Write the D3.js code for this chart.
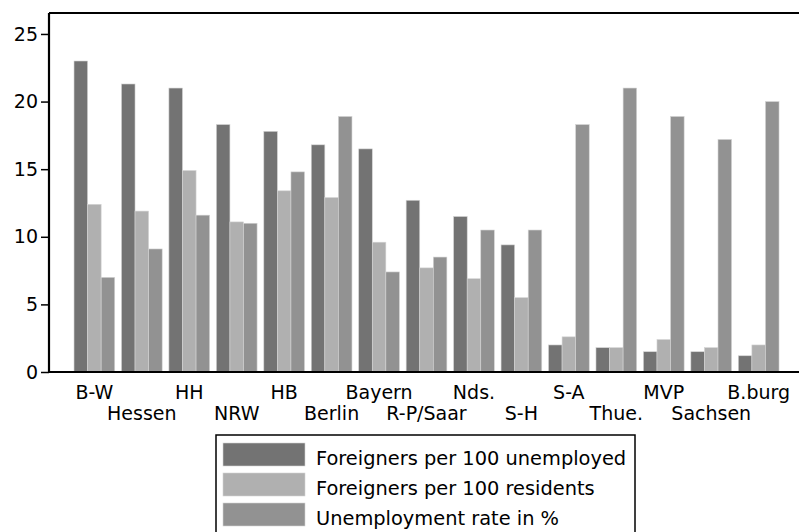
<!DOCTYPE html>
<html>
<head>
<meta charset="utf-8">
<script src="https://cdn.jsdelivr.net/npm/d3@7"></script>
<style>
  body { margin: 0; background: #fff; }
  svg { display: block; font-family: "DejaVu Sans", sans-serif; }
</style>
</head>
<body>
<svg id="chart" width="799" height="532"></svg>
<script>
// states (Länder) in the order shown
const states = ["B-W", "Hessen", "HH", "NRW", "HB", "Berlin", "Bayern", "R-P/Saar",
                "Nds.", "S-H", "S-A", "Thue.", "MVP", "Sachsen", "B.burg"]

const seriesNames = ["Foreigners per 100 unemployed", "Foreigners per 100 residents", "Unemployment rate in %"]

const perUnemployed = [23.0, 21.3, 21.0, 18.3, 17.8, 16.8, 16.5, 12.7, 11.5, 9.4, 2.0, 1.8, 1.5, 1.5, 1.2]
const perResidents  = [12.4, 11.9, 14.9, 11.1, 13.4, 12.9, 9.6, 7.7, 6.9, 5.5, 2.6, 1.8, 2.4, 1.8, 2.0]
const unemployment  = [7.0, 9.1, 11.6, 11.0, 14.8, 18.9, 7.4, 8.5, 10.5, 10.5, 18.3, 21.0, 18.9, 17.2, 20.0]

const yTicks = [0, 5, 10, 15, 20, 25]

const colors = ["#737373", "#b0b0b0", "#929292"]

const rows = states.map((s, i) => ({
  state: s,
  values: [perUnemployed[i], perResidents[i], unemployment[i]]
}))

const svg = d3.select("#chart")
const m = {left: 49, right: 799, top: 13, bottom: 372}

const x = d3.scaleBand()
  .domain(states)
  .range([m.left, m.right])
  .paddingInner(0.142)
  .paddingOuter(0.474)
  .align(0.556)

const xs = d3.scaleBand()
  .domain(d3.range(3))
  .range([0, x.bandwidth()])

const y = d3.scaleLinear()
  .domain([0, 26.55])
  .range([m.bottom, m.top])

// bars
const groups = svg.append("g")
  .selectAll("g")
  .data(rows)
  .join("g")
    .attr("transform", d => "translate(" + x(d.state) + ",0)")

groups.selectAll("rect")
  .data(d => d.values)
  .join("rect")
    .attr("x", (v, i) => xs(i))
    .attr("y", v => y(v))
    .attr("width", xs.bandwidth())
    .attr("height", v => y(0) - y(v))
    .attr("fill", (v, i) => colors[i])
    .attr("stroke", "#d4d4d4")
    .attr("stroke-width", 0.6)

// y axis
const yAxis = svg.append("g")
  .attr("transform", "translate(" + m.left + ",0)")
  .call(d3.axisLeft(y).tickValues(yTicks).tickSize(8).tickPadding(3))
yAxis.select(".domain").remove()
yAxis.selectAll(".tick line").attr("stroke", "#000").attr("stroke-width", 1.5)
yAxis.selectAll("text").attr("font-size", 19).attr("font-family", "DejaVu Sans").attr("fill", "#000")

// x axis, labels staggered on two rows
const xAxis = svg.append("g")
  .attr("transform", "translate(0," + m.bottom + ")")
  .call(d3.axisBottom(x).tickSize(0))
xAxis.select(".domain").remove()
xAxis.selectAll("text")
  .attr("font-size", 19)
  .attr("font-family", "DejaVu Sans")
  .attr("fill", "#000")
  .attr("dy", null)
  .attr("y", (d, i) => i % 2 === 0 ? 27 : 48)

// frame lines: left, top, bottom
svg.append("line").attr("x1", m.left).attr("x2", m.left).attr("y1", m.top).attr("y2", m.bottom + 1)
  .attr("stroke", "#000").attr("stroke-width", 2.2)
svg.append("line").attr("x1", m.left).attr("x2", m.right).attr("y1", m.top).attr("y2", m.top)
  .attr("stroke", "#000").attr("stroke-width", 2.2)
svg.append("line").attr("x1", m.left).attr("x2", m.right).attr("y1", m.bottom).attr("y2", m.bottom)
  .attr("stroke", "#000").attr("stroke-width", 2.2)

// legend
const legend = svg.append("g").attr("transform", "translate(216,435)")
legend.append("rect")
  .attr("width", 419).attr("height", 120)
  .attr("fill", "#fff").attr("stroke", "#000").attr("stroke-width", 1.5)

const items = legend.selectAll("g.item")
  .data(seriesNames)
  .join("g")
    .attr("class", "item")
    .attr("transform", (d, i) => "translate(7," + (8 + i * 30) + ")")
items.append("rect")
  .attr("width", 82).attr("height", 23)
  .attr("fill", (d, i) => colors[i])
  .attr("stroke", "#d4d4d4").attr("stroke-width", 0.6)
items.append("text")
  .attr("x", 93).attr("y", 22)
  .attr("font-size", 19.4)
  .attr("fill", "#000")
  .text(d => d)
</script>
</body>
</html>
